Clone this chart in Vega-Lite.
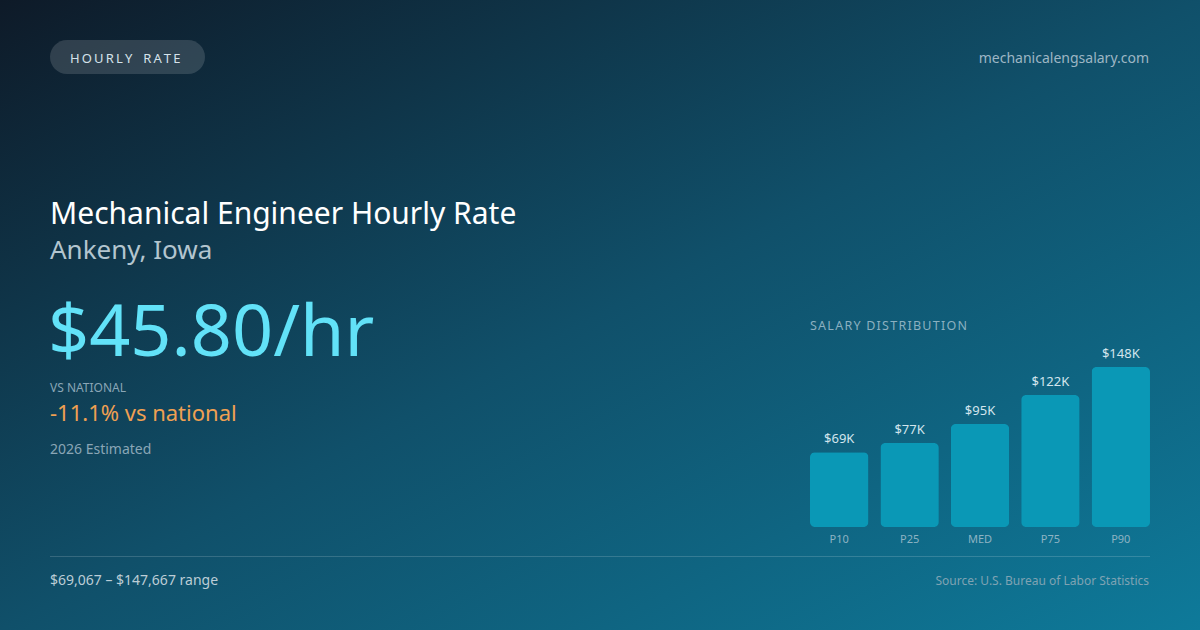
{
  "$schema": "https://vega.github.io/schema/vega-lite/v6.json",
  "description": "Mechanical engineer hourly rate card for Ankeny, Iowa with salary percentile bars.",
  "width": 1200,
  "height": 630,
  "autosize": {"type": "fit", "contains": "padding"},
  "padding": 0,
  "background": "#0f1c2b",
  "view": {
    "stroke": null,
    "fill": {
      "gradient": "linear",
      "x1": 0, "y1": 0, "x2": 1, "y2": 1,
      "stops": [
        {"offset": 0, "color": "#0e1a28"},
        {"offset": 0.5, "color": "#10506a"},
        {"offset": 1, "color": "#0e7a9a"}
      ]
    }
  },
  "config": {
    "text": {"font": "Noto Sans", "align": "left", "baseline": "alphabetic"}
  },
  "datasets": {
    "salaries": [
      {"pct": "P10", "salary": 69067, "label": "$69K"},
      {"pct": "P25", "salary": 77500, "label": "$77K"},
      {"pct": "MED", "salary": 95000, "label": "$95K"},
      {"pct": "P75", "salary": 121800, "label": "$122K"},
      {"pct": "P90", "salary": 147667, "label": "$148K"}
    ]
  },
  "layer": [
    {
      "data": {"values": [{"text": "pill"}]},
      "mark": {"type": "rect", "x": 50, "x2": 205, "y": 40, "y2": 74, "cornerRadius": 17, "fill": "#ffffff", "fillOpacity": 0.14},
      "encoding": {}
    },
    {
      "data": {"values": [{"text": "H\u2009O\u2009U\u2009R\u2009L\u2009Y\u2009\u2002\u2009R\u2009A\u2009T\u2009E"}]},
      "mark": {"type": "text", "x": 70, "y": 63, "fontSize": 13, "color": "#d5e2ea"},
      "encoding": {"text": {"field": "text"}}
    },
    {
      "data": {"values": [{"text": "mechanicalengsalary.com"}]},
      "mark": {"type": "text", "x": 1149, "y": 63, "align": "right", "fontSize": 14, "color": "#9db6c4"},
      "encoding": {"text": {"field": "text"}}
    },
    {
      "data": {"values": [{"text": "Mechanical Engineer Hourly Rate"}]},
      "mark": {"type": "text", "x": 50, "y": 224, "fontSize": 30, "color": "#ffffff"},
      "encoding": {"text": {"field": "text"}}
    },
    {
      "data": {"values": [{"text": "Ankeny, Iowa"}]},
      "mark": {"type": "text", "x": 50, "y": 259, "fontSize": 26, "color": "#b3c5cf"},
      "encoding": {"text": {"field": "text"}}
    },
    {
      "data": {"values": [{"text": "$45.80/hr"}]},
      "mark": {"type": "text", "x": 48, "y": 356, "fontSize": 72, "color": "#62e2f8"},
      "encoding": {"text": {"field": "text"}}
    },
    {
      "data": {"values": [{"text": "VS NATIONAL"}]},
      "mark": {"type": "text", "x": 50, "y": 392, "fontSize": 12, "color": "#8aa6b6"},
      "encoding": {"text": {"field": "text"}}
    },
    {
      "data": {"values": [{"text": "-11.1% vs national"}]},
      "mark": {"type": "text", "x": 50, "y": 421, "fontSize": 22, "color": "#f0a052"},
      "encoding": {"text": {"field": "text"}}
    },
    {
      "data": {"values": [{"text": "2026 Estimated"}]},
      "mark": {"type": "text", "x": 50, "y": 454, "fontSize": 14, "color": "#8aa6b6"},
      "encoding": {"text": {"field": "text"}}
    },
    {
      "data": {"values": [{"text": "S\u200aA\u200aL\u200aA\u200aR\u200aY\u200a\u00a0\u200aD\u200aI\u200aS\u200aT\u200aR\u200aI\u200aB\u200aU\u200aT\u200aI\u200aO\u200aN"}]},
      "mark": {"type": "text", "x": 810, "y": 330, "fontSize": 12.5, "color": "#8bb0c0"},
      "encoding": {"text": {"field": "text"}}
    },
    {
      "data": {"name": "salaries"},
      "mark": {"type": "bar", "cornerRadius": 5, "color": "#0a98b6"},
      "encoding": {
        "x": {"field": "pct", "type": "nominal", "sort": null, "axis": null,
              "scale": {"range": [810, 1150], "paddingInner": 0.17, "paddingOuter": 0}},
        "y": {"field": "salary", "type": "quantitative", "axis": null,
              "scale": {"domain": [0, 147667], "range": [527, 367], "nice": false}}
      }
    },
    {
      "data": {"name": "salaries"},
      "mark": {"type": "text", "align": "center", "dy": -9, "fontSize": 13, "color": "#d3e5ed"},
      "encoding": {
        "x": {"field": "pct", "type": "nominal", "sort": null, "band": 0.5},
        "y": {"field": "salary", "type": "quantitative"},
        "text": {"field": "label"}
      }
    },
    {
      "data": {"name": "salaries"},
      "mark": {"type": "text", "align": "center", "y": 543, "fontSize": 11, "color": "#8db3c3"},
      "encoding": {
        "x": {"field": "pct", "type": "nominal", "sort": null, "band": 0.5},
        "text": {"field": "pct"}
      }
    },
    {
      "data": {"values": [{"text": "divider"}]},
      "mark": {"type": "rect", "x": 50, "x2": 1150, "y": 556, "y2": 557, "fill": "#ffffff", "fillOpacity": 0.16},
      "encoding": {}
    },
    {
      "data": {"values": [{"text": "$69,067 – $147,667 range"}]},
      "mark": {"type": "text", "x": 50, "y": 585, "fontSize": 14, "color": "#bccdd6"},
      "encoding": {"text": {"field": "text"}}
    },
    {
      "data": {"values": [{"text": "Source: U.S. Bureau of Labor Statistics"}]},
      "mark": {"type": "text", "x": 1149, "y": 585, "align": "right", "fontSize": 12, "color": "#7fa3b3"},
      "encoding": {"text": {"field": "text"}}
    }
  ]
}
